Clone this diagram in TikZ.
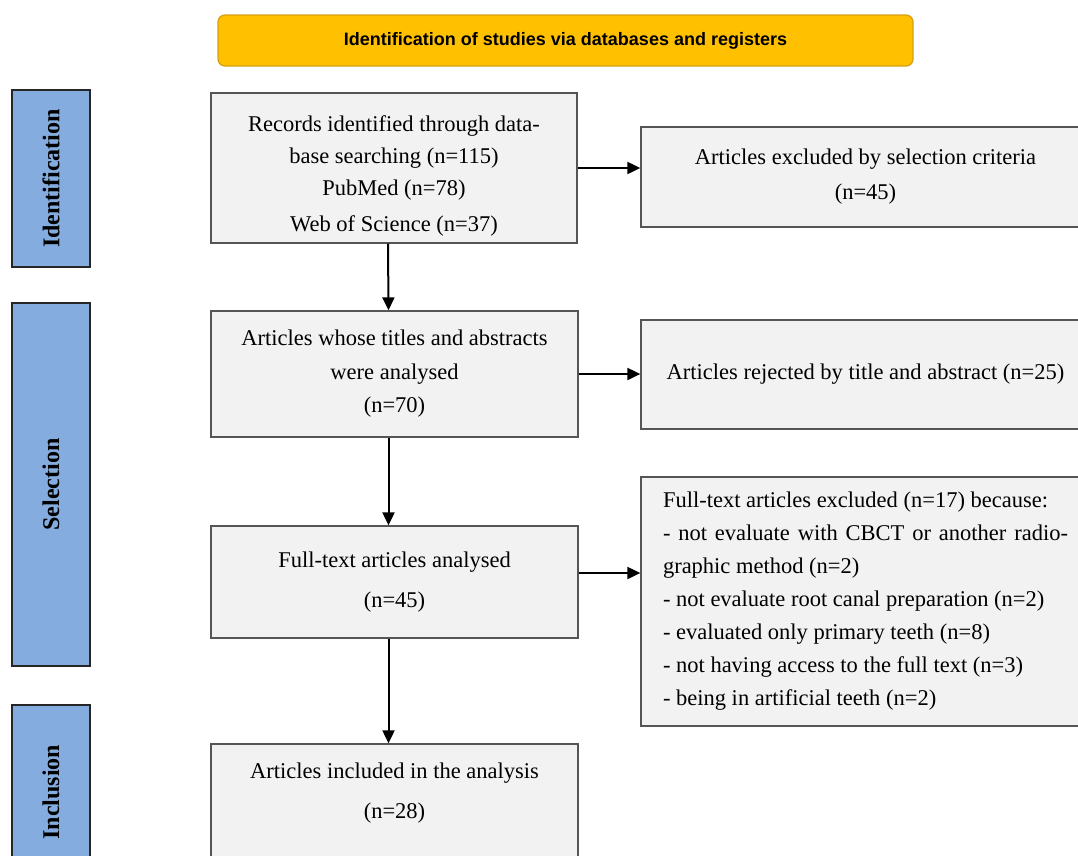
\documentclass[tikz,border=0pt]{standalone}
\usepackage{fontspec}
\setmainfont{Liberation Serif}
\newfontfamily\headfont{Liberation Sans}
\usetikzlibrary{arrows.meta}
\definecolor{headyellow}{RGB}{255,192,0}
\definecolor{headedge}{RGB}{214,160,20}
\definecolor{phaseblue}{RGB}{132,172,223}
\definecolor{boxgray}{RGB}{242,242,242}
\definecolor{boxedge}{RGB}{85,85,85}

\tikzset{
  flowbox/.style={draw=boxedge,fill=boxgray,line width=1.3pt,align=center,inner sep=0pt,
    font=\fontsize{22.5}{32}\selectfont},
  phasebar/.style={draw=black!85,fill=phaseblue,line width=2pt,rotate=90,inner sep=0pt,
    minimum height=78pt,font=\fontsize{24}{28}\selectfont\bfseries},
  flowarrow/.style={-{Triangle[length=13pt,width=12pt]},line width=2pt},
}

\begin{document}
\begin{tikzpicture}[x=1pt,y=-1pt]
    \path[use as bounding box] (0,0) rectangle (1078,855);

    % heading
    \node[draw=headedge,fill=headyellow,line width=1.3pt,rounded corners=7pt,
      minimum width=695pt,minimum height=51pt,
      font=\headfont\fontsize{18}{21}\selectfont\bfseries] (head) at (565.5,40.5)
      {Identification of studies via databases and registers};

    % phases
    \node[phasebar,minimum width=177pt] (pid) at (51,178.5) {Identification};
    \node[phasebar,minimum width=363pt] (psel) at (51,484.5) {Selection};
    \node[phasebar,minimum width=175pt] (pinc) at (51,792) {Inclusion};

    % main column
    \node[flowbox,minimum width=366pt,minimum height=150pt] (rec) at (394,168)
      {\strut\\[-22pt]Records identified through data-\\base searching (n=115)\\PubMed (n=78)\\[4pt]Web of Science (n=37)};
    \node[flowbox,minimum width=367pt,minimum height=126pt] (tit) at (394.5,374)
      {Articles whose titles and abstracts\\[2pt]were analysed\\[1pt](n=70)};
    \node[flowbox,minimum width=367pt,minimum height=112pt] (ful) at (394.5,582)
      {Full-text articles analysed\\[8pt](n=45)};
    \node[flowbox,minimum width=367pt,minimum height=142pt] (inc) at (394.5,815)
      {Articles included in the analysis\\[8pt](n=28)\\[8pt]\strut};

    % right column
    \node[flowbox,minimum width=449pt,minimum height=100pt] (exc) at (865.5,177)
      {Articles excluded by selection criteria\\[3pt](n=45)};
    \node[flowbox,minimum width=449pt,minimum height=109pt] (rej) at (865.5,374.5)
      {Articles rejected by title and abstract (n=25)};
    \node[flowbox,minimum width=449pt,minimum height=249pt,text width=405pt,align=justify,
      font=\fontsize{22.5}{33}\selectfont] (why) at (865.5,601.5)
      {Full-text articles excluded (n=17) because:\\
       - not evaluate with CBCT or another radio-\linebreak
       graphic method (n=2)\\
       - not evaluate root canal preparation (n=2)\\
       - evaluated only primary teeth (n=8)\\
       - not having access to the full text (n=3)\\
       - being in artificial teeth (n=2)};

    % arrows
    \draw[flowarrow] ([xshift=-6pt]rec.south) -- ([xshift=-6pt]tit.north);
    \draw[flowarrow] ([xshift=-6pt]tit.south) -- ([xshift=-6pt]ful.north);
    \draw[flowarrow] ([xshift=-6pt]ful.south) -- ([xshift=-6pt]inc.north);
    \draw[flowarrow] (rec.east) -- (rec.east -| exc.west);
    \draw[flowarrow] (tit.east) -- (tit.east -| rej.west);
    \draw[flowarrow] ([yshift=9pt]ful.east) -- ([yshift=9pt]ful.east -| why.west);
\end{tikzpicture}
\end{document}
